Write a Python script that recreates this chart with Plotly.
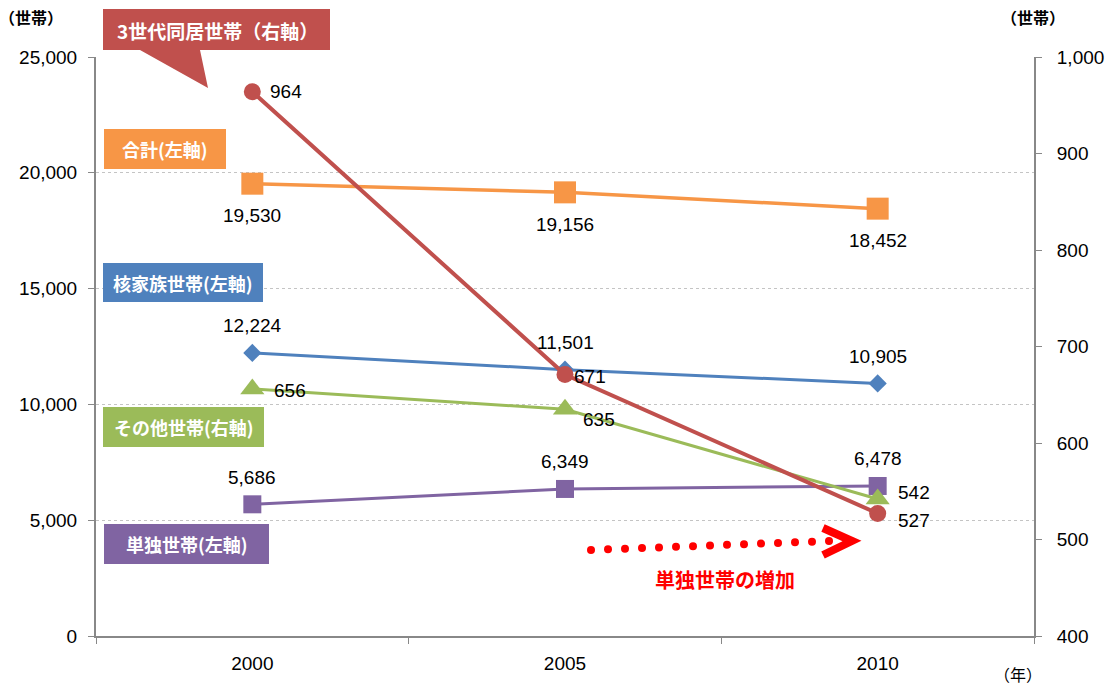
import plotly.graph_objects as go

years = ["2000", "2005", "2010"]
total = [19530, 19156, 18452]          # 合計 (左軸)
nuclear = [12224, 11501, 10905]        # 核家族世帯 (左軸)
single = [5686, 6349, 6478]            # 単独世帯 (左軸)
three_gen = [964, 671, 527]            # 3世代同居世帯 (右軸)
other = [656, 635, 542]                # その他世帯 (右軸)

left_ticks = [0, 5000, 10000, 15000, 20000, 25000]
right_ticks = [400, 500, 600, 700, 800, 900, 1000]

RED = "#C0504D"
ORANGE = "#F79646"
BLUE = "#4F81BD"
GREEN = "#9BBB59"
PURPLE = "#8064A2"

W, H = 1115, 689
L, R, T, B = 96, 1034, 57, 636


def px(X):
    return (X - L) / (R - L)


def py(Y):
    return (B - Y) / (B - T)


fig = go.Figure()
fig.add_trace(go.Scatter(x=years, y=single, mode="lines+markers", yaxis="y",
                         line=dict(color=PURPLE, width=3),
                         marker=dict(symbol="square", size=18, color=PURPLE)))
fig.add_trace(go.Scatter(x=years, y=nuclear, mode="lines+markers", yaxis="y",
                         line=dict(color=BLUE, width=3),
                         marker=dict(symbol="diamond", size=14, color=BLUE)))
fig.add_trace(go.Scatter(x=years, y=total, mode="lines+markers", yaxis="y",
                         line=dict(color=ORANGE, width=3.5),
                         marker=dict(symbol="square", size=22, color=ORANGE)))
fig.add_trace(go.Scatter(x=years, y=other, mode="lines+markers", yaxis="y2",
                         line=dict(color=GREEN, width=3),
                         marker=dict(symbol="triangle-up", size=21, color=GREEN)))
fig.add_trace(go.Scatter(x=years, y=three_gen, mode="lines+markers", yaxis="y2",
                         line=dict(color=RED, width=4),
                         marker=dict(symbol="circle", size=17, color=RED)))

NUMF = dict(family="Liberation Sans, Arial, sans-serif", size=19, color="#000000")
CJK = "Noto Sans CJK JP, sans-serif"
annotations = []


def fmt(v):
    return f"{v:,}"


def lab(i, yv, yref, xanchor="center", dx=0, dy=0):
    return dict(x=i, y=yv, xref="x", yref=yref, text=fmt(yv), showarrow=False,
                font=NUMF, xanchor=xanchor, yanchor="middle", xshift=dx, yshift=dy)


for i, yv in enumerate(total):
    annotations.append(lab(i, yv, "y", dy=-32))
for i, yv in enumerate(nuclear):
    annotations.append(lab(i, yv, "y", dy=27))
for i, yv in enumerate(single):
    annotations.append(lab(i, yv, "y", dy=27))
tg_off = [(16, 0), (7, -2), (18, -7)]
for i, yv in enumerate(three_gen):
    dx, dy = tg_off[i]
    annotations.append(lab(i, yv, "y2", "left", dx, dy))
ot_off = [(20, -2), (16, -10), (18, 6)]
for i, yv in enumerate(other):
    dx, dy = ot_off[i]
    annotations.append(lab(i, yv, "y2", "left", dx, dy))


def paper_text(X, Y, text, font):
    return dict(x=px(X), y=py(Y), xref="paper", yref="paper", text=text,
                showarrow=False, font=font, xanchor="center", yanchor="middle")


shapes = []
BOXF = dict(family=CJK, size=18, color="#FFFFFF")

# callout for 3世代同居世帯
path = "M {} {} L {} {} L {} {} L {} {} L {} {} L {} {} L {} {} Z".format(
    px(103), py(9), px(330), py(9), px(330), py(50), px(200), py(50),
    px(208), py(88), px(140), py(50), px(103), py(50))
shapes.append(dict(type="path", path=path, xref="paper", yref="paper",
                   fillcolor=RED, line=dict(width=0)))
annotations.append(paper_text(217, 30, "<b>3世代同居世帯（右軸）</b>",
                              dict(family=CJK, size=19, color="#FFFFFF")))

boxes = [
    ("合計(左軸)", ORANGE, 104, 226, 129, 169),
    ("核家族世帯(左軸)", BLUE, 103, 263, 263, 302),
    ("その他世帯(右軸)", GREEN, 103, 264, 407, 447),
    ("単独世帯(左軸)", PURPLE, 104, 269, 524, 564),
]
for txt, col, x0, x1, y0, y1 in boxes:
    shapes.append(dict(type="rect", xref="paper", yref="paper",
                       x0=px(x0), x1=px(x1), y0=py(y1), y1=py(y0),
                       fillcolor=col, line=dict(width=0)))
    annotations.append(paper_text((x0 + x1) / 2, (y0 + y1) / 2, f"<b>{txt}</b>", BOXF))

# dotted red arrow
n_dots = 15
for k in range(n_dots):
    cx = 591 + (829 - 591) * k / (n_dots - 1)
    cy = 550 + (541 - 550) * k / (n_dots - 1)
    r = 4
    shapes.append(dict(type="circle", xref="paper", yref="paper",
                       x0=px(cx - r), x1=px(cx + r), y0=py(cy + r), y1=py(cy - r),
                       fillcolor="#FF0000", line=dict(width=0)))
shapes.append(dict(type="path", xref="paper", yref="paper",
                   path="M {} {} L {} {} L {} {}".format(px(823), py(528), px(852), py(541),
                                                      px(823), py(555)),
                   line=dict(color="#FF0000", width=8)))
annotations.append(paper_text(725, 579, "<b>単独世帯の増加</b>",
                              dict(family=CJK, size=20, color="#FF0000")))

# axis titles
annotations.append(paper_text(31, 17, "<b>（世帯）</b>", dict(family=CJK, size=16, color="#000000")))
annotations.append(paper_text(1033, 17, "<b>（世帯）</b>", dict(family=CJK, size=16, color="#000000")))
annotations.append(paper_text(1018, 674, "（年）", dict(family=CJK, size=16, color="#000000")))

fig.update_layout(
    width=W, height=H,
    margin=dict(l=L, r=W - R, t=T, b=H - B, autoexpand=False),
    paper_bgcolor="white", plot_bgcolor="white",
    showlegend=False,
    font=NUMF,
    xaxis=dict(type="category", range=[-0.5, 2.5], tickson="boundaries",
               ticks="outside", ticklen=6, tickcolor="#888888", tickwidth=1,
               showline=True, linecolor="#888888", linewidth=2,
               showgrid=False, zeroline=False, ticklabelstandoff=9,
               tickfont=NUMF, automargin=False),
    yaxis=dict(range=[0, 25000], tickvals=left_ticks,
               ticktext=[fmt(v) for v in left_ticks],
               ticks="outside", ticklen=6, tickcolor="#888888",
               showline=True, linecolor="#888888", linewidth=2,
               showgrid=True, gridcolor="#C4C4C4", griddash="dot", gridwidth=1,
               zeroline=False, ticklabelstandoff=7, tickfont=NUMF, automargin=False),
    yaxis2=dict(range=[400, 1000], tickvals=right_ticks,
                ticktext=[fmt(v) for v in right_ticks],
                overlaying="y", side="right", anchor="x",
                ticks="outside", ticklen=6, tickcolor="#888888",
                showline=True, linecolor="#888888", linewidth=2,
                showgrid=False, zeroline=False, ticklabelstandoff=11,
                tickfont=NUMF, automargin=False),
    shapes=shapes,
    annotations=annotations,
)

fig.write_html("out.html", config={"displayModeBar": False},
               post_script="document.body.style.margin='0';")
